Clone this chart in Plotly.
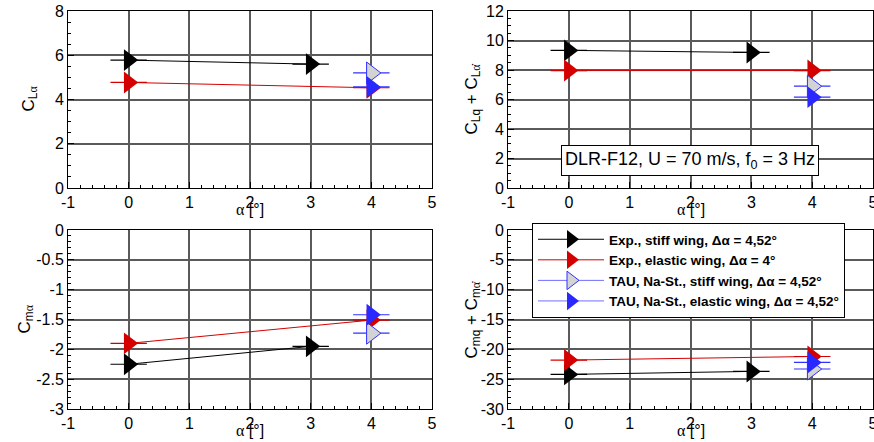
import plotly.graph_objects as go

# ---- data ----
alpha_exp_stiff = [0, 3]
alpha_exp_elastic = [0, 4]
alpha_tau = [4]
alpha_bar = 0.3  # horizontal bar half-width

cla_exp_stiff = [5.78, 5.60]
cla_exp_elastic = [4.77, 4.53]
cla_tau_stiff = [5.20]
cla_tau_elastic = [4.57]

clq_exp_stiff = [9.33, 9.19]
clq_exp_elastic = [7.96, 7.96]
clq_tau_stiff = [6.90]
clq_tau_elastic = [6.16]

cma_exp_stiff = [-2.25, -1.95]
cma_exp_elastic = [-1.90, -1.51]
cma_tau_stiff = [-1.73]
cma_tau_elastic = [-1.42]

cmq_exp_stiff = [-24.2, -23.7]
cmq_exp_elastic = [-21.8, -21.2]
cmq_tau_stiff = [-23.3]
cmq_tau_elastic = [-22.2]

names = ["Exp., stiff wing, Δα = 4,52°",
         "Exp., elastic wing, Δα = 4°",
         "TAU, Na-St., stiff wing, Δα = 4,52°",
         "TAU, Na-St., elastic wing, Δα = 4,52°"]

# tick values / labels
x_tickvals = [-1, 0, 1, 2, 3, 4, 5]
x_ticktext = ["-1", "0", "1", "2", "3", "4", "5"]
cla_tickvals = [0, 2, 4, 6, 8]
cla_ticktext = ["0", "2", "4", "6", "8"]
clq_tickvals = [0, 2, 4, 6, 8, 10, 12]
clq_ticktext = ["0", "2", "4", "6", "8", "10", "12"]
cma_tickvals = [-3, -2.5, -2, -1.5, -1, -0.5, 0]
cma_ticktext = ["-3", "-2.5", "-2", "-1.5", "-1", "-0.5", "0"]
cmq_tickvals = [-30, -25, -20, -15, -10, -5, 0]
cmq_ticktext = ["-30", "-25", "-20", "-15", "-10", "-5", "0"]

SERIF = "Liberation Serif, Times New Roman, serif"
ALPHA = f"<span style='font-family:{SERIF}'>α</span>"
ALPHADOT = f"<span style='font-family:{SERIF}'>α̇</span>"
x_title = f"{ALPHA} [°]"
y_titles = ["C<sub>L" + ALPHA + "</sub>",
            "C<sub>Lq</sub> + C<sub>L" + ALPHADOT + "</sub>",
            "C<sub>m" + ALPHA + "</sub>",
            "C<sub>mq</sub> + C<sub>m" + ALPHADOT + "</sub>"]

panels = [
    ("x", "y", cla_exp_stiff, cla_exp_elastic, cla_tau_stiff, cla_tau_elastic),
    ("x2", "y2", clq_exp_stiff, clq_exp_elastic, clq_tau_stiff, clq_tau_elastic),
    ("x3", "y3", cma_exp_stiff, cma_exp_elastic, cma_tau_stiff, cma_tau_elastic),
    ("x4", "y4", cmq_exp_stiff, cmq_exp_elastic, cmq_tau_stiff, cmq_tau_elastic),
]

FONT = "Liberation Sans, Arial, sans-serif"
MS = 19

styles = [
    dict(line=dict(color="black", width=1),
         marker=dict(symbol="triangle-right", size=MS, color="black", line=dict(width=0)),
         err="black"),
    dict(line=dict(color="#d40000", width=1),
         marker=dict(symbol="triangle-right", size=MS, color="#d40000", line=dict(width=0)),
         err="#d40000"),
    dict(line=dict(color="#7070ff", width=1),
         marker=dict(symbol="triangle-right", size=MS, color="#d3d3d3",
                     line=dict(width=1, color="#3030ff")),
         err="#3030ff"),
    dict(line=dict(color="#7070ff", width=1),
         marker=dict(symbol="triangle-right", size=MS, color="#2828ff", line=dict(width=0)),
         err="#3030ff"),
]

fig = go.Figure()
for pi, (xa, ya, s1, s2, s3, s4) in enumerate(panels):
    xs_list = [alpha_exp_stiff, alpha_exp_elastic, alpha_tau, alpha_tau]
    ys_list = [s1, s2, s3, s4]
    for k in range(4):
        st = styles[k]
        fig.add_trace(go.Scatter(
            x=xs_list[k], y=ys_list[k], xaxis=xa, yaxis=ya,
            mode="lines+markers", name=names[k],
            line=st["line"], marker=st["marker"],
            error_x=dict(type="constant", value=alpha_bar, color=st["err"],
                         thickness=1.2, width=0),
            showlegend=(pi == 3), legendrank=k + 1,
        ))

W, H = 874, 442
L0, L1 = 68, 432
R0, R1 = 508, 873
T0, T1 = 11, 188
B0, B1 = 230, 409
dx_left = [L0 / W, L1 / W]
dx_right = [R0 / W, R1 / W]
dy_top = [1 - T1 / H, 1 - T0 / H]
dy_bot = [1 - B1 / H, 1 - B0 / H]

grid = "#5a5a5a"


def xaxis(domain, anchor):
    return dict(domain=domain, anchor=anchor, range=[-1, 5],
                tickmode="array", tickvals=x_tickvals, ticktext=x_ticktext,
                automargin=False, ticklabeloverflow="allow",
                showgrid=True, gridcolor=grid, gridwidth=1.5, zeroline=False,
                showline=True, linecolor="black", linewidth=1, mirror=True,
                ticks="inside", ticklen=6, tickcolor="black",
                minor=dict(dtick=0.2, tick0=0, ticks="inside", ticklen=3, tickcolor="black", showgrid=False),
                tickfont=dict(family=FONT, size=16, color="black"))


def yaxis(domain, anchor, rng, tv, tt, mdt):
    return dict(domain=domain, anchor=anchor, range=rng,
                tickmode="array", tickvals=tv, ticktext=tt,
                automargin=False, ticklabeloverflow="allow",
                showgrid=True, gridcolor=grid, gridwidth=1.5, zeroline=False,
                showline=True, linecolor="black", linewidth=1, mirror=True,
                ticks="inside", ticklen=6, tickcolor="black",
                minor=dict(dtick=mdt, tick0=0, ticks="inside", ticklen=3, tickcolor="black", showgrid=False),
                tickfont=dict(family=FONT, size=16, color="black"))


annotations = []
# x-axis titles
for (x0, x1, ypix) in [(L0, L1, 209), (R0, R1, 209), (L0, L1, 430), (R0, R1, 430)]:
    annotations.append(dict(text=x_title, xref="paper", yref="paper",
                            x=(x0 + x1) / 2 / W, y=1 - ypix / H,
                            xanchor="center", yanchor="middle", showarrow=False,
                            font=dict(family=FONT, size=16, color="black")))
# y-axis titles
for (t, xpix, y0, y1) in [(y_titles[0], 30, T0, T1), (y_titles[1], 473, T0, T1),
                          (y_titles[2], 25, B0, B1), (y_titles[3], 472, B0, B1)]:
    annotations.append(dict(text=t, xref="paper", yref="paper",
                            x=xpix / W, y=1 - (y0 + y1) / 2 / H, textangle=-90,
                            xanchor="center", yanchor="middle", showarrow=False,
                            font=dict(family=FONT, size=17, color="black")))
annotations.append(dict(
    text="DLR-F12, U = 70 m/s, f<sub>0</sub> = 3 Hz",
    xref="paper", yref="paper", x=690 / W, y=1 - 160 / H,
    xanchor="center", yanchor="middle", showarrow=False,
    font=dict(family=FONT, size=18, color="black"),
    bgcolor="white", bordercolor="black", borderwidth=1, borderpad=3,
))

fig.update_layout(
    width=W, height=H,
    margin=dict(l=0, r=0, t=0, b=0, autoexpand=False),
    paper_bgcolor="white", plot_bgcolor="white",
    font=dict(family=FONT, color="black"),
    xaxis=xaxis(dx_left, "y"),
    yaxis=yaxis(dy_top, "x", [0, 8], cla_tickvals, cla_ticktext, 0.5),
    xaxis2=xaxis(dx_right, "y2"),
    yaxis2=yaxis(dy_top, "x2", [0, 12], clq_tickvals, clq_ticktext, 0.5),
    xaxis3=xaxis(dx_left, "y3"),
    yaxis3=yaxis(dy_bot, "x3", [-3, 0], cma_tickvals, cma_ticktext, 0.1),
    xaxis4=xaxis(dx_right, "y4"),
    yaxis4=yaxis(dy_bot, "x4", [-30, 0], cmq_tickvals, cmq_ticktext, 1),
    legend=dict(x=532 / W, y=1 - 223 / H, xanchor="left", yanchor="top",
                bgcolor="white", bordercolor="black", borderwidth=1,
                font=dict(family=FONT, size=13.5, color="black", weight="bold"),
                itemwidth=66, traceorder="normal"),
    annotations=annotations,
    showlegend=True,
)

# remove the default 8px page margin so the figure fills the window exactly
fig.write_html("out.html",
               config={"displayModeBar": False},
               post_script="document.body.style.margin='0';document.body.style.overflow='hidden';")
